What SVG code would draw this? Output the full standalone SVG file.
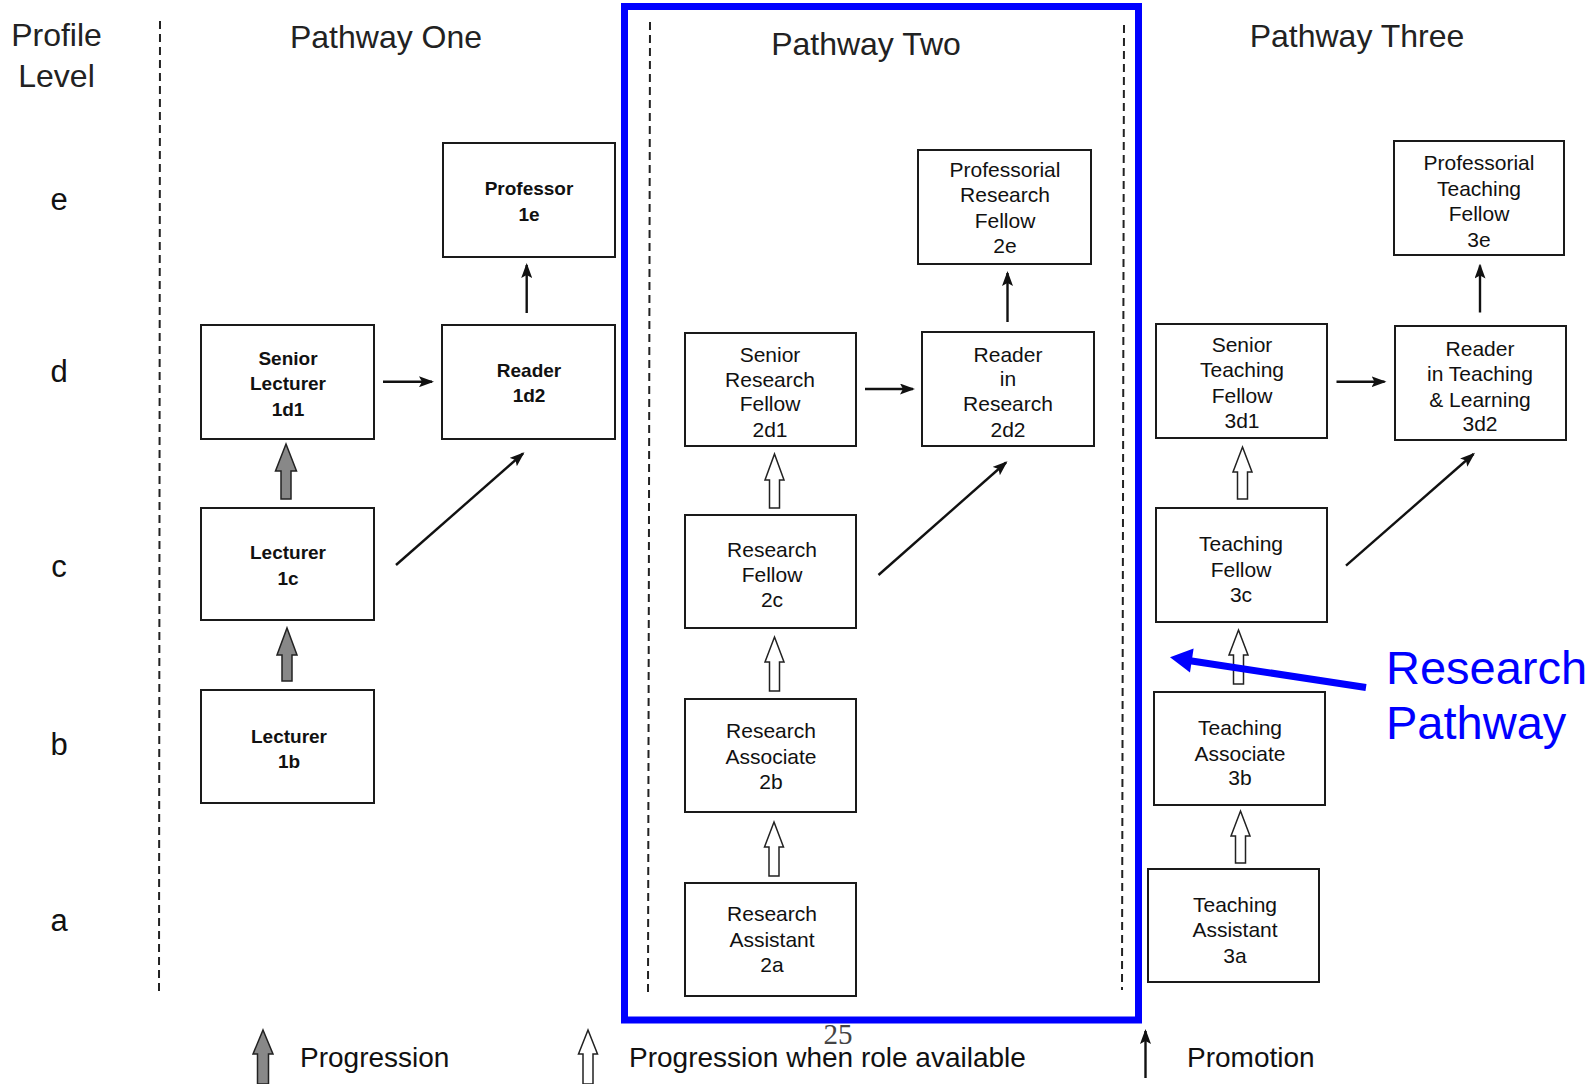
<svg xmlns="http://www.w3.org/2000/svg" width="1596" height="1084" viewBox="0 0 1596 1084">
<defs>
<style>
.box{fill:#fff;stroke:#1a1a1a;stroke-width:2}
.t1{font-family:"Liberation Sans",Arial,sans-serif;font-size:19px;font-weight:bold;text-anchor:middle;fill:#111}
.t2{font-family:"Liberation Sans",Arial,sans-serif;font-size:21px;text-anchor:middle;fill:#111}
.hdr{font-family:"Liberation Sans",Arial,sans-serif;font-size:32px;fill:#222}
.lvl{font-family:"Liberation Sans",Arial,sans-serif;font-size:31px;fill:#111;text-anchor:middle}
.leg{font-family:"Liberation Sans",Arial,sans-serif;font-size:28px;fill:#111}
.dash{stroke:#222;stroke-width:2;stroke-dasharray:8 5;fill:none}
.prom{stroke:#111;stroke-width:2.4;fill:none;marker-end:url(#ah)}
.ga{fill:#888;stroke:#222;stroke-width:1.5}
.oa{fill:#fff;stroke:#222;stroke-width:1.5}
.blue{font-family:"Liberation Sans",Arial,sans-serif;font-size:47px;fill:#0000ff}
</style>
<marker id="ah" viewBox="0 0 15 11" refX="13" refY="5.5" markerWidth="15" markerHeight="11" markerUnits="userSpaceOnUse" orient="auto">
<path d="M0,0 L15,5.5 L0,11 L3,5.5 z" fill="#111"/>
</marker>
</defs>
<rect width="1596" height="1084" fill="#fff"/>

<!-- headers and level labels -->
<text class="hdr" x="56.5" y="46" text-anchor="middle">Profile</text>
<text class="hdr" x="56.5" y="87" text-anchor="middle">Level</text>
<text class="hdr" x="386" y="48" text-anchor="middle">Pathway One</text>
<text class="hdr" x="866" y="55" text-anchor="middle">Pathway Two</text>
<text class="hdr" x="1357" y="47" text-anchor="middle">Pathway Three</text>
<text class="lvl" x="59" y="210">e</text>
<text class="lvl" x="59" y="382">d</text>
<text class="lvl" x="59" y="577">c</text>
<text class="lvl" x="59" y="755">b</text>
<text class="lvl" x="59" y="931">a</text>

<!-- dashed separators -->
<line class="dash" x1="160" y1="21" x2="159" y2="993"/>
<line class="dash" x1="650" y1="22" x2="648" y2="993"/>
<line class="dash" x1="1124" y1="25" x2="1122" y2="990"/>

<!-- Pathway One -->
<g id="n1e"><rect class="box" x="443" y="143" width="172" height="114"/><text class="t1" x="529" y="195">Professor</text><text class="t1" x="529" y="221">1e</text></g>
<g id="n1d1"><rect class="box" x="201" y="325" width="173" height="114"/><text class="t1" x="288" y="365">Senior</text><text class="t1" x="288" y="390">Lecturer</text><text class="t1" x="288" y="416">1d1</text></g>
<g id="n1d2"><rect class="box" x="442" y="325" width="173" height="114"/><text class="t1" x="529" y="377">Reader</text><text class="t1" x="529" y="402">1d2</text></g>
<g id="n1c"><rect class="box" x="201" y="508" width="173" height="112"/><text class="t1" x="288" y="559">Lecturer</text><text class="t1" x="288" y="585">1c</text></g>
<g id="n1b"><rect class="box" x="201" y="690" width="173" height="113"/><text class="t1" x="289" y="743">Lecturer</text><text class="t1" x="289" y="768">1b</text></g>

<!-- Pathway Two -->
<g id="n2e"><rect class="box" x="918" y="150" width="173" height="114"/><text class="t2" x="1005" y="177">Professorial</text><text class="t2" x="1005" y="202">Research</text><text class="t2" x="1005" y="228">Fellow</text><text class="t2" x="1005" y="253">2e</text></g>
<g id="n2d1"><rect class="box" x="685" y="333" width="171" height="113"/><text class="t2" x="770" y="362">Senior</text><text class="t2" x="770" y="387">Research</text><text class="t2" x="770" y="411">Fellow</text><text class="t2" x="770" y="437">2d1</text></g>
<g id="n2d2"><rect class="box" x="922" y="332" width="172" height="114"/><text class="t2" x="1008" y="362">Reader</text><text class="t2" x="1008" y="386">in</text><text class="t2" x="1008" y="411">Research</text><text class="t2" x="1008" y="437">2d2</text></g>
<g id="n2c"><rect class="box" x="685" y="515" width="171" height="113"/><text class="t2" x="772" y="557">Research</text><text class="t2" x="772" y="582">Fellow</text><text class="t2" x="772" y="607">2c</text></g>
<g id="n2b"><rect class="box" x="685" y="699" width="171" height="113"/><text class="t2" x="771" y="738">Research</text><text class="t2" x="771" y="764">Associate</text><text class="t2" x="771" y="789">2b</text></g>
<g id="n2a"><rect class="box" x="685" y="883" width="171" height="113"/><text class="t2" x="772" y="921">Research</text><text class="t2" x="772" y="947">Assistant</text><text class="t2" x="772" y="972">2a</text></g>

<!-- Pathway Three -->
<g id="n3e"><rect class="box" x="1394" y="141" width="170" height="114"/><text class="t2" x="1479" y="170">Professorial</text><text class="t2" x="1479" y="196">Teaching</text><text class="t2" x="1479" y="221">Fellow</text><text class="t2" x="1479" y="247">3e</text></g>
<g id="n3d1"><rect class="box" x="1156" y="324" width="171" height="114"/><text class="t2" x="1242" y="352">Senior</text><text class="t2" x="1242" y="377">Teaching</text><text class="t2" x="1242" y="403">Fellow</text><text class="t2" x="1242" y="428">3d1</text></g>
<g id="n3d2"><rect class="box" x="1395" y="326" width="171" height="114"/><text class="t2" x="1480" y="356">Reader</text><text class="t2" x="1480" y="381">in Teaching</text><text class="t2" x="1480" y="407">&amp; Learning</text><text class="t2" x="1480" y="431">3d2</text></g>
<g id="n3c"><rect class="box" x="1156" y="508" width="171" height="114"/><text class="t2" x="1241" y="551">Teaching</text><text class="t2" x="1241" y="577">Fellow</text><text class="t2" x="1241" y="602">3c</text></g>
<g id="n3b"><rect class="box" x="1154" y="692" width="171" height="113"/><text class="t2" x="1240" y="735">Teaching</text><text class="t2" x="1240" y="761">Associate</text><text class="t2" x="1240" y="785">3b</text></g>
<g id="n3a"><rect class="box" x="1148" y="869" width="171" height="113"/><text class="t2" x="1235" y="912">Teaching</text><text class="t2" x="1235" y="937">Assistant</text><text class="t2" x="1235" y="963">3a</text></g>

<!-- connectors -->
<g id="connectors">
<path class="ga" d="M286,444 L296.5,471 L291,471 L291,499 L281,499 L281,471 L275.5,471 Z"/>
<path class="ga" d="M287,628 L297,655 L292,655 L292,681 L282,681 L282,655 L277,655 Z"/>
<path class="oa" d="M774.5,454 L784,480 L779.5,480 L779.5,508 L769.5,508 L769.5,480 L765,480 Z"/>
<path class="oa" d="M774.5,637 L784,662 L779.5,662 L779.5,691 L769.5,691 L769.5,662 L765,662 Z"/>
<path class="oa" d="M774,822 L783.5,847 L779,847 L779,876 L769,876 L769,847 L764.5,847 Z"/>
<path class="oa" d="M1242.5,447 L1252,472 L1247.5,472 L1247.5,499 L1237.5,499 L1237.5,472 L1233,472 Z"/>
<path class="oa" d="M1238.5,630 L1248,655 L1243.5,655 L1243.5,684 L1233.5,684 L1233.5,655 L1229,655 Z"/>
<path class="oa" d="M1240.5,811 L1250,836 L1245.5,836 L1245.5,863 L1235.5,863 L1235.5,836 L1231,836 Z"/>
<line class="prom" x1="526.7" y1="313" x2="526.7" y2="265"/>
<line class="prom" x1="383" y1="381.7" x2="432" y2="381.7"/>
<line class="prom" x1="396" y1="565" x2="523" y2="453.5"/>
<line class="prom" x1="865" y1="389" x2="913" y2="389"/>
<line class="prom" x1="1007.5" y1="322" x2="1007.5" y2="273"/>
<line class="prom" x1="878.5" y1="575" x2="1006" y2="462.5"/>
<line class="prom" x1="1336.5" y1="381.7" x2="1384.5" y2="381.7"/>
<line class="prom" x1="1480" y1="312.5" x2="1480" y2="265.5"/>
<line class="prom" x1="1346" y1="565.7" x2="1473.5" y2="454"/>
</g>

<!-- highlight -->
<rect x="624.5" y="6.5" width="514" height="1013.5" fill="none" stroke="#0000ff" stroke-width="7"/>
<g id="research-pathway">
<line x1="1366" y1="687.5" x2="1190" y2="660.7" stroke="#0000ff" stroke-width="7"/>
<path d="M1170,657.3 L1193.6,648.5 L1190,672.5 Z" fill="#0000ff"/>
<text class="blue" x="1386" y="684">Research</text>
<text class="blue" x="1386" y="739">Pathway</text>
</g>

<!-- legend -->
<path class="ga" d="M263,1030 L273,1054 L268.5,1054 L268.5,1084 L257.5,1084 L257.5,1054 L253,1054 Z"/>
<text class="leg" x="300" y="1067">Progression</text>
<path class="oa" d="M588,1030 L597.5,1054 L593,1054 L593,1084 L583,1084 L583,1054 L578.5,1054 Z"/>
<text class="leg" x="629" y="1067">Progression when role available</text>
<line class="prom" x1="1145.5" y1="1078" x2="1145.5" y2="1031"/>
<text class="leg" x="1187" y="1067">Promotion</text>
<text x="838" y="1044" font-family="'Liberation Serif','Times New Roman',serif" font-size="29" fill="#444" text-anchor="middle">25</text>
</svg>
